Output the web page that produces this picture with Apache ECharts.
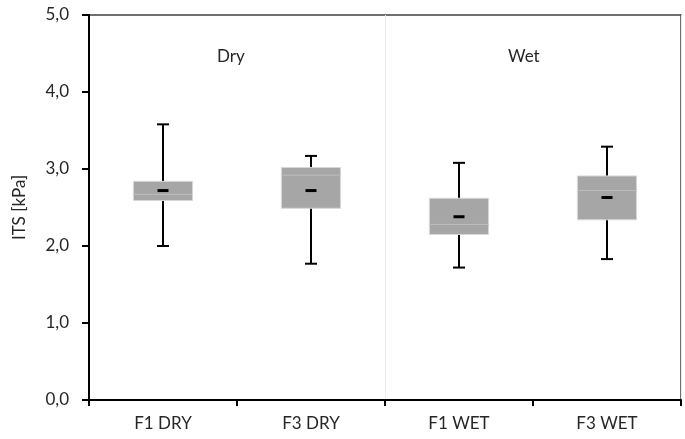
<!DOCTYPE html>
<html>
<head>
<meta charset="utf-8">
<script src="https://cdn.jsdelivr.net/npm/echarts@6/dist/echarts.min.js"></script>
<style>
  html, body { margin: 0; padding: 0; background: #fff; }
  #chart { width: 685px; height: 439px; }
</style>
</head>
<body>
<div id="chart"></div>
<script>
// values
const categories = ["F1 DRY", "F3 DRY", "F1 WET", "F3 WET"];
const whiskerMin = [2.0, 1.77, 1.72, 1.83];
const q1 = [2.59, 2.49, 2.15, 2.34];
const median = [2.67, 2.92, 2.28, 2.72];
const q3 = [2.84, 3.02, 2.62, 2.91];
const whiskerMax = [3.58, 3.17, 3.08, 3.29];
const means = [2.72, 2.72, 2.38, 2.63];
const yTicks = [0, 1, 2, 3, 4, 5];

const FONT = "Lato";
const TEXT = "#262626";
const chart = echarts.init(document.getElementById("chart"));

const boxData = categories.map((c, i) => [i, whiskerMin[i], q1[i], median[i], q3[i], whiskerMax[i], means[i]]);

function renderBox(params, api) {
  const i = api.value(0);
  const x = api.coord([i, 0])[0];
  const w = api.size([1, 0])[0] * 0.4;
  const yMin = api.coord([i, api.value(1)])[1];
  const yQ1 = api.coord([i, api.value(2)])[1];
  const yMed = api.coord([i, api.value(3)])[1];
  const yQ3 = api.coord([i, api.value(4)])[1];
  const yMax = api.coord([i, api.value(5)])[1];
  const yMean = api.coord([i, api.value(6)])[1];
  const black = { stroke: "#000", lineWidth: 2 };
  return {
    type: "group",
    children: [
      { type: "line", shape: { x1: x, y1: yMin, x2: x, y2: yMax }, style: black },
      { type: "line", shape: { x1: x - 6, y1: yMin, x2: x + 6, y2: yMin }, style: black },
      { type: "line", shape: { x1: x - 6, y1: yMax, x2: x + 6, y2: yMax }, style: black },
      {
        type: "rect",
        shape: { x: x - w / 2, y: yQ3, width: w, height: yQ1 - yQ3 },
        style: { fill: "#a6a6a6", stroke: "#d9d9d9", lineWidth: 1 },
      },
      {
        type: "line",
        shape: { x1: x - w / 2, y1: yMed, x2: x + w / 2, y2: yMed },
        style: { stroke: "#bdbdbd", lineWidth: 1 },
      },
      { type: "rect", shape: { x: x - 5.5, y: yMean - 1.5, width: 11, height: 3 }, style: { fill: "#000" } },
    ],
  };
}

chart.setOption({
  animation: false,
  textStyle: { fontFamily: FONT },
  grid: {
    left: 89, right: 4, top: 15, bottom: 39,
    show: true, borderColor: "#404040", borderWidth: 1.5,
  },
  graphic: [
    { type: "text", left: 217, top: 48, style: { text: "Dry", font: "17px " + FONT, fill: TEXT } },
    { type: "text", left: 508, top: 48, style: { text: "Wet", font: "17px " + FONT, fill: TEXT } },
  ],
  xAxis: [
    {
      type: "category",
      data: categories,
      axisLine: { lineStyle: { color: "#000", width: 2 } },
      axisTick: { show: true, length: 6, lineStyle: { color: "#000", width: 2 } },
      axisLabel: { color: TEXT, fontSize: 17, margin: 15, fontFamily: FONT },
      splitLine: { show: false },
      z: 5,
    },
    {
      // hidden helper axis: draws the Dry / Wet separator
      type: "value",
      min: 0, max: 4, interval: 2,
      show: true,
      axisLine: { show: false },
      axisTick: { show: false },
      axisLabel: { show: false },
      splitLine: { show: true, lineStyle: { color: "#ebebeb", width: 1 } },
      z: 0,
    },
  ],
  yAxis: {
    type: "value",
    min: yTicks[0],
    max: yTicks[yTicks.length - 1],
    interval: 1,
    name: "ITS [kPa]",
    nameLocation: "middle",
    nameRotate: 90,
    nameGap: 61,
    nameTextStyle: { color: TEXT, fontSize: 17, fontFamily: FONT },
    axisLine: { show: true, lineStyle: { color: "#000", width: 2 } },
    axisTick: { show: true, length: 7, lineStyle: { color: "#000", width: 2 } },
    axisLabel: {
      color: TEXT, fontSize: 17, margin: 20, fontFamily: FONT,
      formatter: (v) => v.toFixed(1).replace(".", ","),
    },
    splitLine: { show: false },
  },
  series: [
    {
      type: "custom",
      renderItem: renderBox,
      encode: { x: 0, y: [1, 5] },
      data: boxData,
      z: 3,
    },
  ],
});
</script>
</body>
</html>
